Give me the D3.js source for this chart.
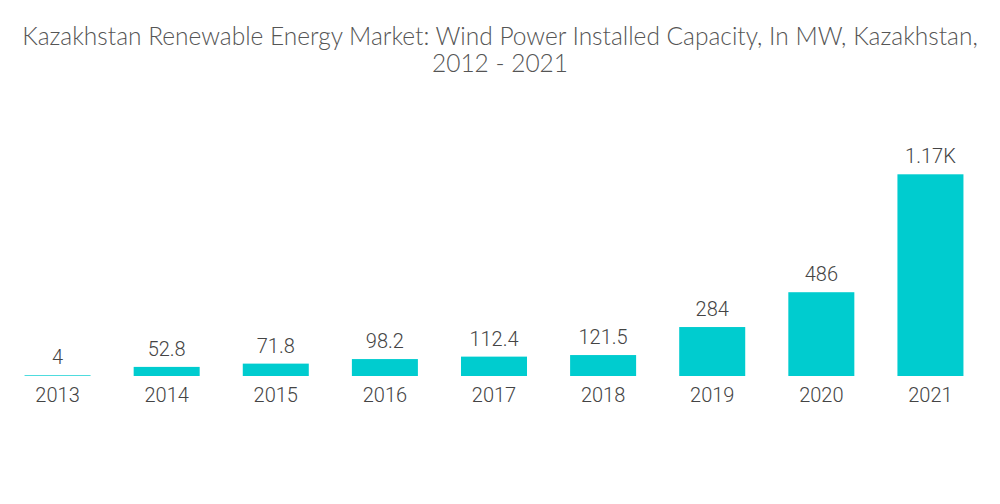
<!DOCTYPE html>
<html>
<head>
<meta charset="utf-8">
<script src="https://cdn.jsdelivr.net/npm/d3@7"></script>
<style>
  body { margin: 0; background: #fff; }
</style>
</head>
<body>
<div id="chart"></div>
<script>
// data
var years = ["2013", "2014", "2015", "2016", "2017", "2018", "2019", "2020", "2021"];
var capacity = [4, 52.8, 71.8, 98.2, 112.4, 121.5, 284, 486, 1170];
var titleLines = ["Kazakhstan Renewable Energy Market: Wind Power Installed Capacity, In MW, Kazakhstan,", "2012 - 2021"];

var W = 1000, H = 504;
var baseline = 376;

var svg = d3.select("#chart")
    .append("svg")
    .attr("width", W)
    .attr("height", H);

// title
svg.append("g")
    .selectAll("text")
    .data(titleLines)
    .enter()
    .append("text")
    .attr("x", W / 2)
    .attr("y", function(d, i) { return 45 + i * 27; })
    .attr("text-anchor", "middle")
    .attr("fill", "#555")
    .style("font-family", "Lato, sans-serif")
    .style("font-weight", "300")
    .style("font-size", "24.5px")
    .text(function(d) { return d; });

var x = d3.scaleBand()
    .domain(years)
    .range([3, 985])
    .paddingInner(0.395)
    .paddingOuter(0.1975);

var y = d3.scaleLinear()
    .domain([0, 1170])
    .range([baseline, 174.3]);

// bars
svg.selectAll("rect.bar")
    .data(capacity)
    .enter()
    .append("rect")
    .attr("class", "bar")
    .attr("x", function(d, i) { return x(years[i]); })
    .attr("y", function(d) { return y(d); })
    .attr("width", x.bandwidth())
    .attr("height", function(d) { return baseline - y(d); })
    .attr("fill", "#00cccf");

// value labels
var fmt = function(d) { return d >= 1000 ? d3.format(".3~s")(d).replace("k", "K") : String(d); };
svg.selectAll("text.val")
    .data(capacity)
    .enter()
    .append("text")
    .attr("class", "val")
    .attr("x", function(d, i) { return x(years[i]) + x.bandwidth() / 2; })
    .attr("y", function(d) { return y(d) - 11; })
    .attr("text-anchor", "middle")
    .attr("fill", "#444")
    .style("font-family", "Roboto, sans-serif")
    .style("font-weight", "300")
    .style("font-size", "20px")
    .text(fmt);

// x axis
var xAxis = svg.append("g")
    .attr("transform", "translate(0," + baseline + ")")
    .call(d3.axisBottom(x).tickSize(0).tickPadding(12));
xAxis.select(".domain").remove();
xAxis.selectAll("text")
    .attr("fill", "#444")
    .style("font-family", "Roboto, sans-serif")
    .style("font-weight", "300")
    .style("font-size", "20px");
</script>
</body>
</html>
